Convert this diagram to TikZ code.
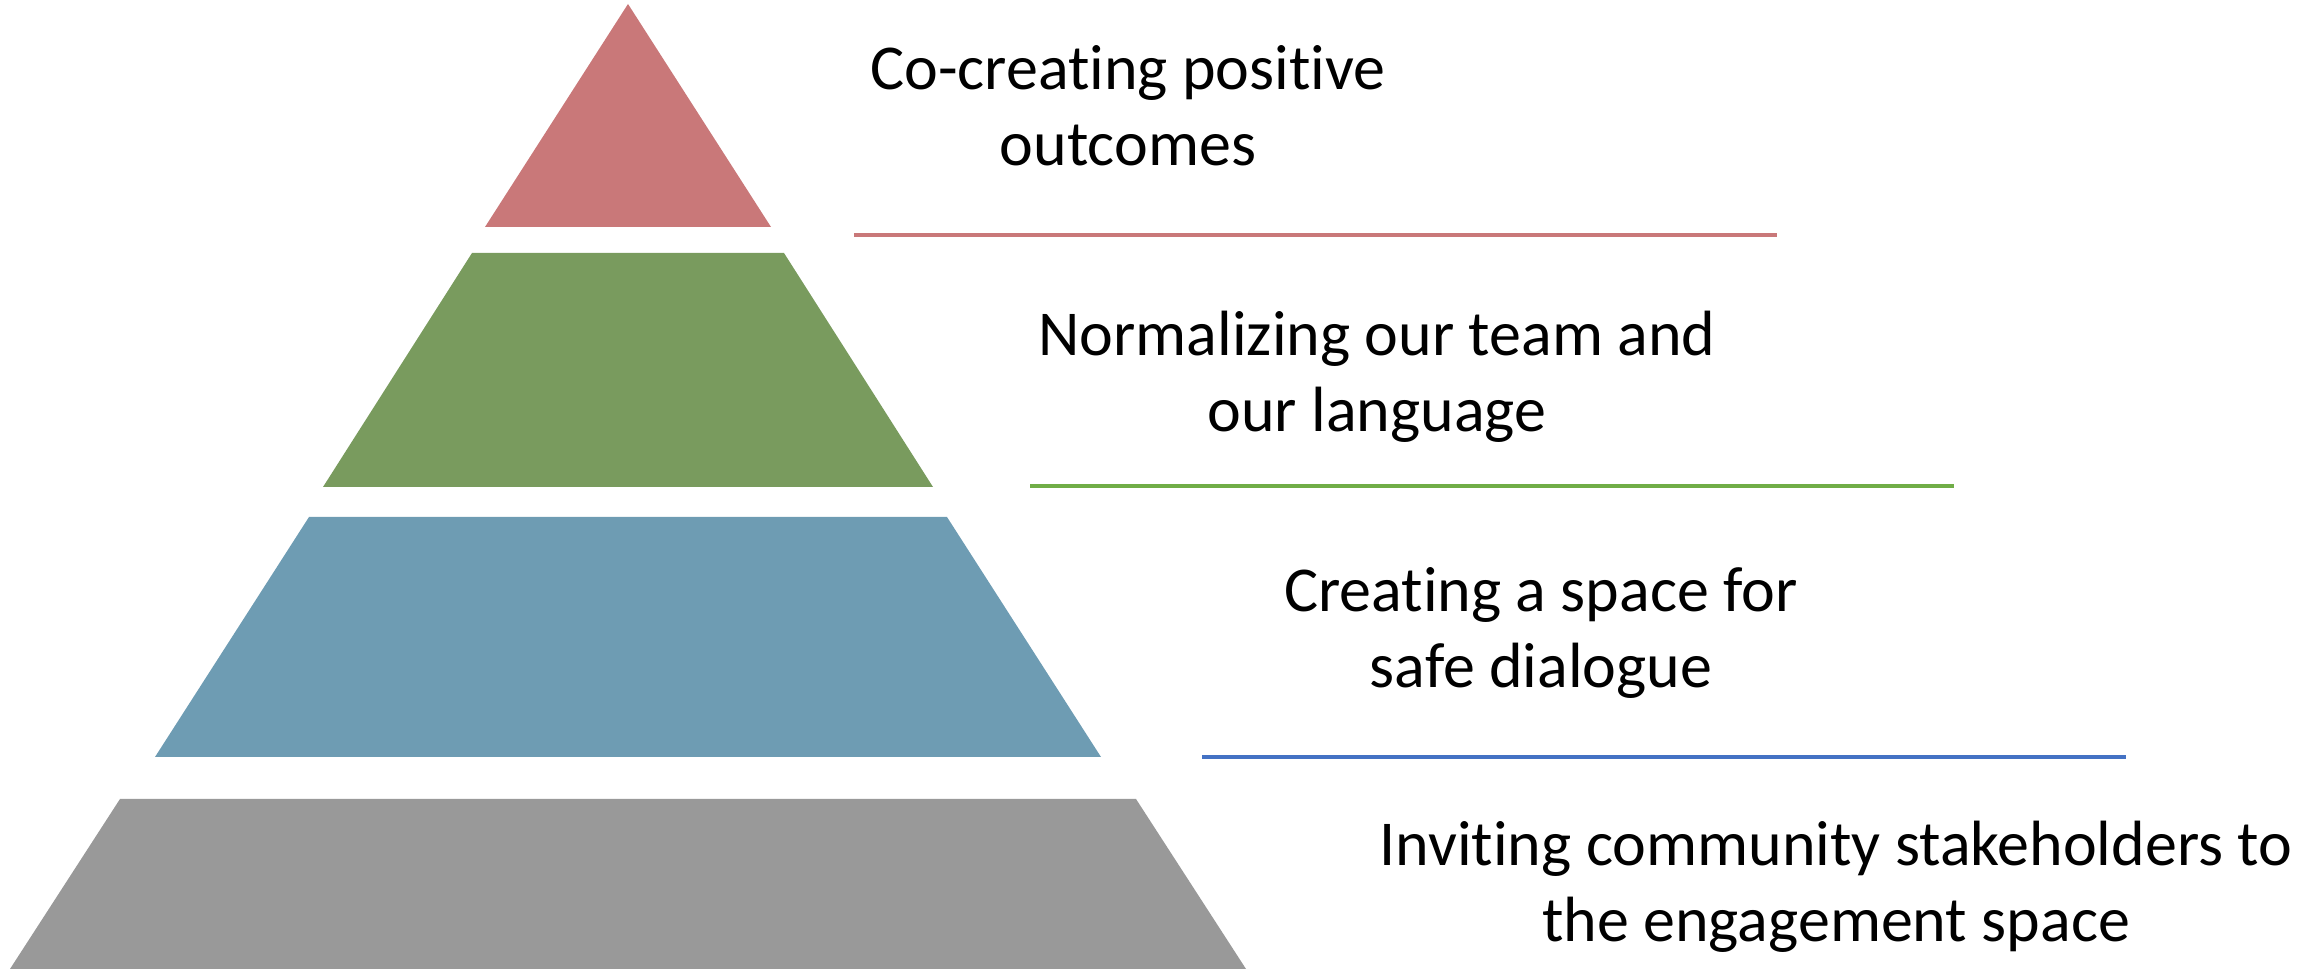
\documentclass[tikz,border=0pt]{standalone}
\usepackage{fontspec}
\setmainfont{Carlito}[Ligatures={NoCommon}]
\usepackage{xcolor}
\definecolor{tierred}{RGB}{201,120,121}
\definecolor{tiergreen}{RGB}{121,155,94}
\definecolor{tierblue}{RGB}{110,156,179}
\definecolor{tiergray}{RGB}{153,153,153}
\definecolor{rulered}{RGB}{201,120,121}
\definecolor{rulegreen}{RGB}{112,173,71}
\definecolor{ruleblue}{RGB}{68,114,196}

\begin{document}
\begin{tikzpicture}[x=0.1mm, y=-0.1mm,
    label/.style={align=center, inner sep=0pt, anchor=base,
      font=\fontsize{18.2}{21.7}\selectfont},
    rule/.style={line width=1.15pt}]
      \useasboundingbox (0,0) rectangle (2321,970);

      \fill[tierred] (628,4) -- (771,227) -- (485,227) -- cycle;
      \fill[tiergreen] (472,253) -- (784,253) -- (933,487) -- (323,487) -- cycle;
      \fill[tierblue] (309,517) -- (947,517) -- (1101,757) -- (155,757) -- cycle;
      \fill[tiergray] (120,799) -- (1136,799) -- (1246,969) -- (10,969) -- cycle;

      \node[label] (co) at (1128,166) {Co-creating positive\\outcomes};
      \node[label] (norm) at (1377,432) {Normalizing our team and\\our language};
      \node[label] (safe) at (1541,688) {Creating a space for\\safe dialogue};
      \node[label] (invite) at (1836,942) {Inviting community stakeholders to\\the engagement space};

      \coordinate (r1a) at (854,235);  \coordinate (r1b) at (1777,235);
      \coordinate (r2a) at (1030,486); \coordinate (r2b) at (1954,486);
      \coordinate (r3a) at (1202,757); \coordinate (r3b) at (2126,757);
      \draw[rule, rulered] (r1a) -- (r1b);
      \draw[rule, rulegreen] (r2a) -- (r2b);
      \draw[rule, ruleblue] (r3a) -- (r3b);
    \end{tikzpicture}
\end{document}
